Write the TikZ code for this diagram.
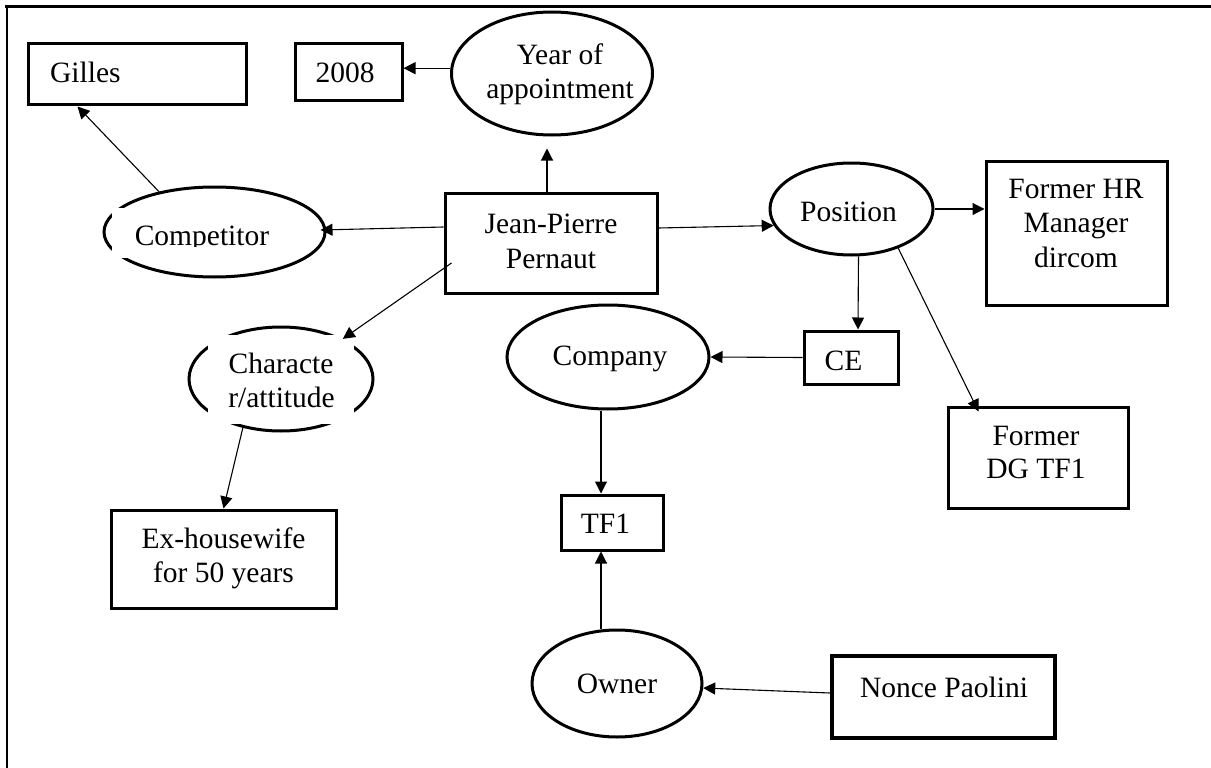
\documentclass[tikz,border=0pt]{standalone}
\usepackage{fontspec}
\setmainfont{Liberation Serif}
\usetikzlibrary{arrows.meta,calc,shapes.geometric}

\begin{document}
\begin{tikzpicture}[x=1pt,y=-1pt,
  txt/.style={anchor=base, inner sep=0pt, font=\fontsize{29.5}{34}\selectfont},
  boxnode/.style={draw, line width=3pt, rectangle, inner sep=0pt},
  ellnode/.style={draw, line width=3pt, ellipse, inner sep=0pt},
  link/.style={line width=1.1pt, -{Triangle[length=12pt,width=12pt]}},
  mask/.style={fill=white, draw=none}
]
\useasboundingbox (0,0) rectangle (1211,768);

% page frame (top and left rules)
\draw[line width=2.7pt] (5,6.3) -- (1211,6.3);
\draw[line width=1.8pt] (7,5) -- (7,768);

% rectangles
\node[boxnode, minimum width=218pt, minimum height=61pt]  (gilles) at (137,74.5)   {};
\node[boxnode, minimum width=107pt, minimum height=57pt]  (y08)    at (348.5,72.5) {};
\node[boxnode, minimum width=212pt, minimum height=100pt] (jp)     at (551,243)    {};
\node[boxnode, minimum width=181pt, minimum height=144pt] (hr)     at (1076.5,233) {};
\node[boxnode, minimum width=94pt,  minimum height=53pt]  (ce)     at (851,357.5)  {};
\node[boxnode, minimum width=180pt, minimum height=101pt] (dg)     at (1038,457.5) {};
\node[boxnode, minimum width=102pt, minimum height=55pt]  (tf)     at (612,522.5)  {};
\node[boxnode, minimum width=225pt, minimum height=98pt]  (ex)     at (223.5,559)  {};
\node[boxnode, line width=4.5pt, minimum width=223pt, minimum height=82pt] (np) at (943.5,697) {};

% ellipses
\node[ellnode, minimum width=201pt, minimum height=123pt] (year) at (552,73.5)  {};
\node[ellnode, minimum width=221pt, minimum height=90pt]  (comp) at (214.5,232) {};
\node[ellnode, minimum width=163pt, minimum height=92pt]  (pos)  at (851.5,209) {};
\node[ellnode, minimum width=202pt, minimum height=104pt] (co)   at (608,357)   {};
\node[ellnode, minimum width=184pt, minimum height=104pt] (char) at (281,379)   {};
\node[ellnode, minimum width=170pt, minimum height=107pt] (ow)   at (617,683.5) {};

% white text frames sitting on top of two ellipses
\fill[mask] (208,335) rectangle (354,424);
\fill[mask] (112,208) rectangle (300,258);

% labels
\node[txt, anchor=base west] (gilles-t) at (50,82) {Gilles};
\node[txt] (y08-t)  at (345,82)   {2008};
\node[txt] (year-t1) at (560,65)  {Year of};
\node[txt] (year-t2) at (560,99)  {appointment};
\node[txt] (jp-t1)  at (551,233)  {Jean-Pierre};
\node[txt] (jp-t2)  at (551,268)  {Pernaut};
\begin{scope}
  \clip (112,208) rectangle (300,246);
  \node[txt] (comp-t) at (202,245) {Competitor};
\end{scope}
\node[txt] (pos-t)  at (848.5,221) {Position};
\node[txt] (hr-t1)  at (1076,198) {Former HR};
\node[txt] (hr-t2)  at (1076,232) {Manager};
\node[txt] (hr-t3)  at (1076,267) {dircom};
\node[txt] (ce-t)   at (843.5,370) {CE};
\node[txt] (co-t)   at (610,365)  {Company};
\node[txt] (char-t1) at (281,373) {Characte};
\node[txt] (char-t2) at (281.5,407) {r/attitude};
\node[txt] (dg-t1)  at (1036,445) {Former};
\node[txt] (dg-t2)  at (1036,478) {DG TF1};
\node[txt] (tf-t)   at (605.5,533) {TF1};
\node[txt] (ex-t1)  at (223.5,548) {Ex-housewife};
\node[txt] (ex-t2)  at (223.5,582) {for 50 years};
\node[txt] (ow-t)   at (617,693)  {Owner};
\node[txt] (np-t)   at (944,697)  {Nonce Paolini};

% connectors
\coordinate (tfn) at ($(tf.north)+(-11,0)$);
\coordinate (tfs) at ($(tf.south)+(-11,0)$);
\draw[link] ($(jp.north)+(-4,0)$) -- ($(year.south)+(-5,12)$);
\draw[link] (year.177) -- (year.177 -| y08.east);
\draw[link] (comp.144) -- ($(gilles.south west)+(51,0)$);
\draw[link] ($(jp.west)+(0,-16)$) -- ($(comp.east)+(-6,-2)$);
\draw[link] ($(jp.east)+(0,-15)$) -- (pos.192);
\draw[link] ($(jp.west)+(8,20)$) -- (char.33);
\draw[link] (char.-128) -- (ex.north);
\draw[link] (pos.east) -- (pos.east -| hr.west);
\draw[link] ($(pos.south)+(7,0)$) -- ($(ce.north)+(7,0)$);
\draw[link] (pos.-40) -- ($(dg.north west)+(32,6)$);
\draw[link] (ce.west) -- (co.east);
\draw[link] (co.south -| tfn) -- (tfn);
\draw[link] (ow.north -| tfs) -- (tfs);
\draw[link] ($(np.west)+(0,-4)$) -- (ow.-3);
\end{tikzpicture}
\end{document}
